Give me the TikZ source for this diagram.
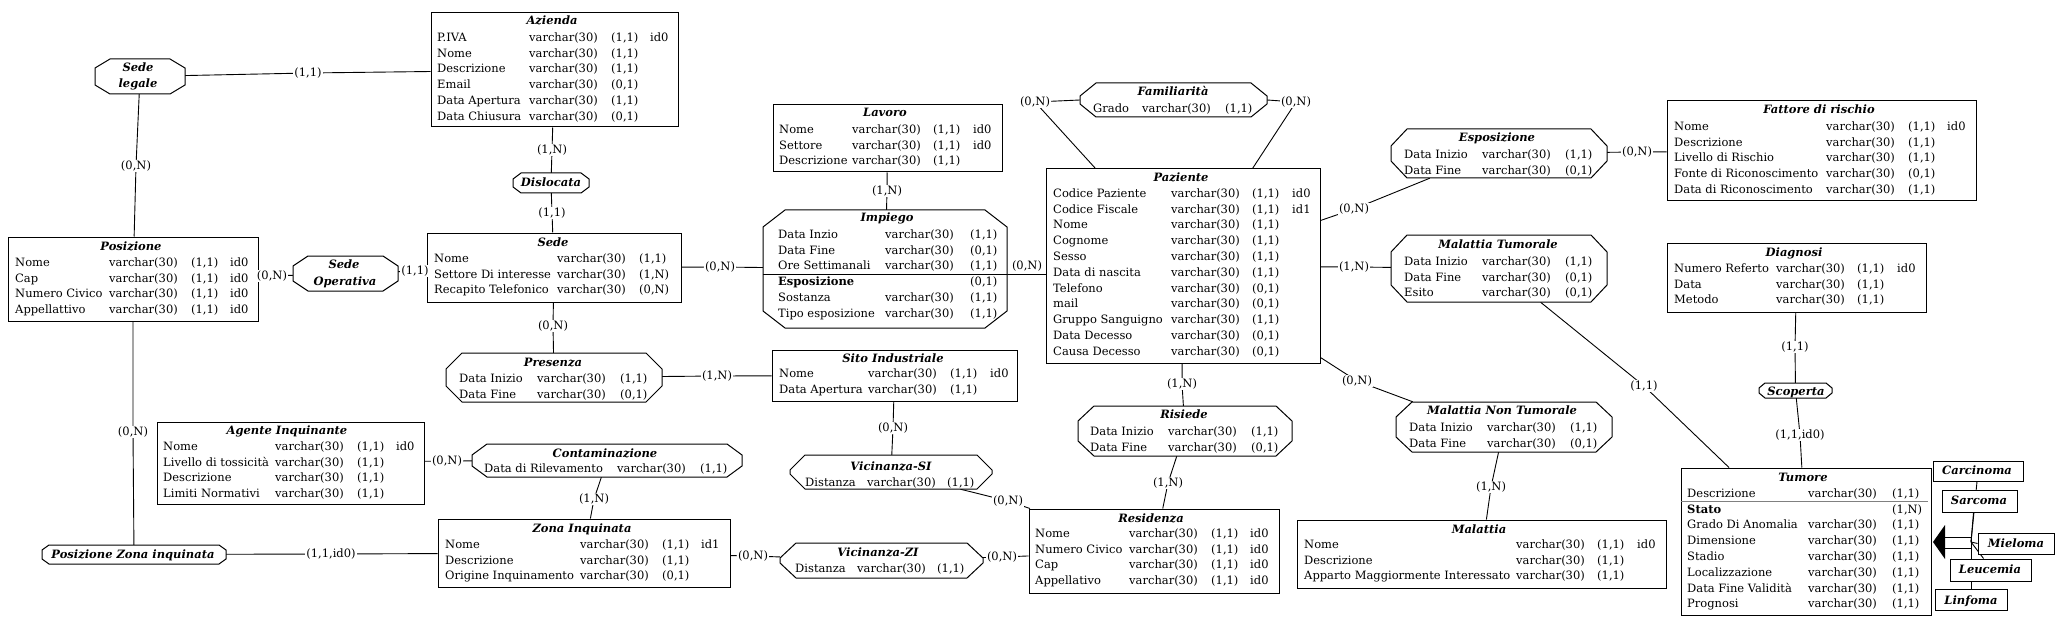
\documentclass[tikz,border=0pt]{standalone}
\usepackage{fontspec}
\setmainfont{DejaVu Serif}
\usepackage{array}
\usetikzlibrary{calc}
\pgfdeclarelayer{back}
\pgfdeclarelayer{bg}
\pgfsetlayers{back,bg,main}
\newcolumntype{E}[3]{@{}w{l}{#1pt}@{}w{l}{#2pt}@{}w{l}{#3pt}@{}l@{}}
\newcolumntype{Q}[2]{@{}w{l}{#1pt}@{}w{l}{#2pt}@{}l@{}}
\newcommand{\ebox}[5]{\node[ent, minimum width={#4-#2}, minimum height={#5-#3}] (#1) at ({(#2+#4)/2},{(#3+#5)/2}) {};}
\newcommand{\obox}[7]{\node[rel, minimum width={#4-#2}, minimum height={#5-#3}] (#1) at ({(#2+#4)/2},{(#3+#5)/2}) {};
 \draw[octline] ({#2+#6},#3) -- ({#4-#6},#3) -- (#4,{#3+#7}) -- (#4,{#5-#7}) -- ({#4-#6},#5) -- ({#2+#6},#5) -- (#2,{#5-#7}) -- (#2,{#3+#7}) -- cycle;}
\newcommand{\ttlat}[4]{\node[ttl] (#1) at (#2,{#3+4}) {#4};}
\newcommand{\lab}[4][card]{\node[#1] (#2) at (#3) {#4};}
\begin{document}
\begin{tikzpicture}[x=1pt,y=-1pt,
 every node/.style={font=\fontsize{11.5}{15.8}\selectfont},
 ent/.style={draw, line width=1pt, fill=white, inner sep=0pt},
 rel/.style={inner sep=0pt},
 octline/.style={draw, line width=1pt, fill=white},
 ttl/.style={inner sep=0pt, anchor=base, font=\fontsize{11.5}{15.8}\selectfont\bfseries\itshape},
 att/.style={inner sep=0pt, anchor=north west},
 card/.style={inner sep=1pt, fill=white},
 cardnf/.style={inner sep=1pt},
 conn/.style={line width=0.9pt},
]
\useasboundingbox (0,0) rectangle (2061,631);
\begin{pgfonlayer}{back}\fill[white] (0,0) rectangle (2061,631);\end{pgfonlayer}

% ---------------- entities ----------------
\ebox{az}{431}{13}{678}{127}
\ttlat{azT}{552}{21}{Azienda}
\node[att] (azA) at (437,30) {\begin{tabular}{E{92}{82}{39}}
P.IVA & varchar(30) & (1,1) & id0\\
Nome & varchar(30) & (1,1) & \\
Descrizione & varchar(30) & (1,1) & \\
Email & varchar(30) & (0,1) & \\
Data Apertura & varchar(30) & (1,1) & \\
Data Chiusura & varchar(30) & (0,1) &
\end{tabular}};

\ebox{sede}{427}{233}{681}{302}
\ttlat{sedeT}{553}{242}{Sede}
\node[att] (sedeA) at (434,251) {\begin{tabular}{Q{123}{82}}
Nome & varchar(30) & (1,1)\\
Settore Di interesse & varchar(30) & (1,N)\\
Recapito Telefonico & varchar(30) & (0,N)
\end{tabular}};

\ebox{pos}{8}{237}{258}{321}
\ttlat{posT}{131}{246}{Posizione}
\node[att] (posA) at (15,255) {\begin{tabular}{E{94}{82}{39}}
Nome & varchar(30) & (1,1) & id0\\
Cap & varchar(30) & (1,1) & id0\\
Numero Civico & varchar(30) & (1,1) & id0\\
Appellattivo & varchar(30) & (1,1) & id0
\end{tabular}};

\ebox{lav}{773}{105}{1002}{172}
\ttlat{lavT}{885}{113}{Lavoro}
\node[att] (lavA) at (779,122) {\begin{tabular}{E{73}{81}{40}}
Nome & varchar(30) & (1,1) & id0\\
Settore & varchar(30) & (1,1) & id0\\
Descrizione & varchar(30) & (1,1) &
\end{tabular}};

\ebox{sito}{772}{350}{1017}{401}
\ttlat{sitoT}{893}{358}{Sito Industriale}
\node[att] (sitoA) at (779,366) {\begin{tabular}{E{89}{82}{40}}
Nome & varchar(30) & (1,1) & id0\\
Data Apertura & varchar(30) & (1,1) &
\end{tabular}};

\ebox{age}{157}{422}{424}{504}
\ttlat{ageT}{287}{430}{Agente Inquinante}
\node[att] (ageA) at (163,439) {\begin{tabular}{E{112}{82}{39}}
Nome & varchar(30) & (1,1) & id0\\
Livello di tossicità & varchar(30) & (1,1) & \\
Descrizione & varchar(30) & (1,1) & \\
Limiti Normativi & varchar(30) & (1,1) &
\end{tabular}};

\ebox{zona}{438}{519}{730}{587}
\ttlat{zonaT}{582}{528}{Zona Inquinata}
\node[att] (zonaA) at (445,537) {\begin{tabular}{E{135}{82}{39}}
Nome & varchar(30) & (1,1) & id1\\
Descrizione & varchar(30) & (1,1) & \\
Origine Inquinamento & varchar(30) & (0,1) &
\end{tabular}};

\ebox{paz}{1046}{169}{1320}{363}
\ttlat{pazT}{1181}{178}{Paziente}
\node[att] (pazA) at (1053,186) {\begin{tabular}{E{118}{81}{40}}
Codice Paziente & varchar(30) & (1,1) & id0\\
Codice Fiscale & varchar(30) & (1,1) & id1\\
Nome & varchar(30) & (1,1) & \\
Cognome & varchar(30) & (1,1) & \\
Sesso & varchar(30) & (1,1) & \\
Data di nascita & varchar(30) & (1,1) & \\
Telefono & varchar(30) & (0,1) & \\
mail & varchar(30) & (0,1) & \\
Gruppo Sanguigno & varchar(30) & (1,1) & \\
Data Decesso & varchar(30) & (0,1) & \\
Causa Decesso & varchar(30) & (0,1) &
\end{tabular}};

\ebox{res}{1029}{509}{1279}{593}
\ttlat{resT}{1151}{518}{Residenza}
\node[att] (resA) at (1035,526) {\begin{tabular}{E{94}{82}{39}}
Nome & varchar(30) & (1,1) & id0\\
Numero Civico & varchar(30) & (1,1) & id0\\
Cap & varchar(30) & (1,1) & id0\\
Appellativo & varchar(30) & (1,1) & id0
\end{tabular}};

\ebox{fat}{1667}{101}{1976}{201}
\ttlat{fatT}{1819}{110}{Fattore di rischio}
\node[att] (fatA) at (1674,119) {\begin{tabular}{E{152}{82}{39}}
Nome & varchar(30) & (1,1) & id0\\
Descrizione & varchar(30) & (1,1) & \\
Livello di Rischio & varchar(30) & (1,1) & \\
Fonte di Riconoscimento & varchar(30) & (0,1) & \\
Data di Riconoscimento & varchar(30) & (1,1) &
\end{tabular}};

\ebox{dia}{1667}{243}{1926}{312}
\ttlat{diaT}{1794}{252}{Diagnosi}
\node[att] (diaA) at (1674,261) {\begin{tabular}{E{102}{81}{40}}
Numero Referto & varchar(30) & (1,1) & id0\\
Data & varchar(30) & (1,1) & \\
Metodo & varchar(30) & (1,1) &
\end{tabular}};

\ebox{mal}{1297}{520}{1666}{588}
\ttlat{malT}{1479}{529}{Malattia}
\node[att] (malA) at (1304,537) {\begin{tabular}{E{212}{81}{40}}
Nome & varchar(30) & (1,1) & id0\\
Descrizione & varchar(30) & (1,1) & \\
Apparto Maggiormente Interessato & varchar(30) & (1,1) &
\end{tabular}};

\ebox{tum}{1681}{468}{1931}{615}
\ttlat{tumT}{1803}{477}{Tumore}
\node[att] (tumA) at (1687,486) {\begin{tabular}{Q{121}{84}}
Descrizione & varchar(30) & (1,1)\\
\textbf{Stato} & & (1,N)\\
Grado Di Anomalia & varchar(30) & (1,1)\\
Dimensione & varchar(30) & (1,1)\\
Stadio & varchar(30) & (1,1)\\
Localizzazione & varchar(30) & (1,1)\\
Data Fine Validità & varchar(30) & (1,1)\\
Prognosi & varchar(30) & (1,1)
\end{tabular}};
\coordinate (ysepT) at (0,501);
\draw[gray, line width=1pt] (tum.west |- ysepT) -- ($(tum.east |- ysepT)+(-4,0)$);

% subtypes
\ebox{car}{1933}{461}{2023}{481} \ttlat{carT}{1977}{470}{Carcinoma}
\ebox{sar}{1942}{490}{2017}{512} \ttlat{sarT}{1979}{500}{Sarcoma}
\ebox{mie}{1978}{533}{2054}{554} \ttlat{mieT}{2016}{543}{Mieloma}
\ebox{leu}{1950}{559}{2031}{581} \ttlat{leuT}{1990}{569}{Leucemia}
\ebox{lin}{1935}{589}{2007}{610} \ttlat{linT}{1971}{600}{Linfoma}

% ---------------- relationships ----------------
\obox{sl}{95}{59}{185}{94}{15}{9}
\ttlat{slT1}{138}{68}{Sede}
\ttlat{slT2}{138}{84}{legale}

\obox{so}{293}{256}{398}{291}{15}{10}
\ttlat{soT1}{344}{265}{Sede}
\ttlat{soT2}{345}{281}{Operativa}

\obox{dis}{513}{173}{589}{193}{8}{6}
\ttlat{disT}{551}{183}{Dislocata}

\obox{imp}{763}{210}{1007}{328}{22}{17}
\ttlat{impT}{887}{218}{Impiego}
\node[att] (impA) at (778,227) {\begin{tabular}{Q{107}{85}}
Data Inzio & varchar(30) & (1,1)\\
Data Fine & varchar(30) & (0,1)\\
Ore Settimanali & varchar(30) & (1,1)\\
\textbf{Esposizione} & & (0,1)\\
Sostanza & varchar(30) & (1,1)\\
Tipo esposizione & varchar(30) & (1,1)
\end{tabular}};
\coordinate (ysep) at (0,274);
\draw[line width=1pt] (imp.west |- ysep) -- (imp.east |- ysep);

\obox{pre}{446}{353}{662}{402}{16}{16}
\ttlat{preT}{553}{362}{Presenza}
\node[att] (preA) at (459,371) {\begin{tabular}{Q{78}{83}}
Data Inizio & varchar(30) & (1,1)\\
Data Fine & varchar(30) & (0,1)
\end{tabular}};

\obox{fam}{1080}{83}{1267}{117}{16}{13}
\ttlat{famT}{1173}{92}{Familiarità}
\node[att] (famA) at (1093,101) {\begin{tabular}{Q{49}{83}}
Grado & varchar(30) & (1,1)
\end{tabular}};

\obox{esp}{1391}{129}{1607}{178}{16}{17}
\ttlat{espT}{1497}{138}{Esposizione}
\node[att] (espA) at (1404,147) {\begin{tabular}{Q{78}{83}}
Data Inizio & varchar(30) & (1,1)\\
Data Fine & varchar(30) & (0,1)
\end{tabular}};

\obox{mt}{1391}{235}{1607}{302}{16}{17}
\ttlat{mtT}{1498}{244}{Malattia Tumorale}
\node[att] (mtA) at (1404,254) {\begin{tabular}{Q{78}{83}}
Data Inizio & varchar(30) & (1,1)\\
Data Fine & varchar(30) & (0,1)\\
Esito & varchar(30) & (0,1)
\end{tabular}};

\obox{mnt}{1396}{402}{1612}{452}{16}{15}
\ttlat{mntT}{1502}{410}{Malattia Non Tumorale}
\node[att] (mntA) at (1409,420) {\begin{tabular}{Q{78}{83}}
Data Inizio & varchar(30) & (1,1)\\
Data Fine & varchar(30) & (0,1)
\end{tabular}};

\obox{ris}{1078}{406}{1292}{456}{16}{15}
\ttlat{risT}{1184}{414}{Risiede}
\node[att] (risA) at (1090,424) {\begin{tabular}{Q{78}{83}}
Data Inizio & varchar(30) & (1,1)\\
Data Fine & varchar(30) & (0,1)
\end{tabular}};

\obox{con}{472}{444}{742}{477}{15}{11}
\ttlat{conT}{605}{453}{Contaminazione}
\node[att] (conA) at (484,461) {\begin{tabular}{Q{133}{83}}
Data di Rilevamento & varchar(30) & (1,1)
\end{tabular}};

\obox{vics}{790}{455}{992}{489}{15}{15}
\ttlat{vicsT}{891}{466}{Vicinanza-SI}
\node[att] (vicsA) at (805,475) {\begin{tabular}{Q{62}{80}}
Distanza & varchar(30) & (1,1)
\end{tabular}};

\obox{vicz}{780}{543}{983}{578}{16}{15}
\ttlat{viczT}{878}{552}{Vicinanza-ZI}
\node[att] (viczA) at (795,561) {\begin{tabular}{Q{62}{80}}
Distanza & varchar(30) & (1,1)
\end{tabular}};

\obox{pzi}{42}{545}{226}{564}{7}{5}
\ttlat{pziT}{133}{554}{Posizione Zona inquinata}

\obox{sco}{1759}{383}{1832}{398}{6}{5}
\ttlat{scoT}{1796}{391}{Scoperta}

% ---------------- connectors ----------------
\coordinate (c1) at (308,73);   \coordinate (c2) at (136,166);
\coordinate (c3) at (272,276);  \coordinate (c4) at (415,271);
\coordinate (c5) at (552,150);  \coordinate (c6) at (552,213);
\coordinate (c7) at (720,267);  \coordinate (c8) at (887,191);
\coordinate (c9) at (1027,266); \coordinate (c10) at (553,326);
\coordinate (c11) at (717,376); \coordinate (c12) at (893,428);
\coordinate (c13) at (1008,501);\coordinate (c14) at (753,556);
\coordinate (c15) at (1002,557);\coordinate (c16) at (594,499);
\coordinate (c17) at (447,461); \coordinate (c18) at (133,432);
\coordinate (c19) at (331,554); \coordinate (c20) at (1035,102);
\coordinate (c21) at (1296,102);\coordinate (c22) at (1354,209);
\coordinate (c23) at (1637,152);\coordinate (c24) at (1354,267);
\coordinate (c25) at (1357,381);\coordinate (c26) at (1182,384);
\coordinate (c27) at (1168,483);\coordinate (c28) at (1491,487);
\coordinate (c29) at (1644,386);\coordinate (c30) at (1795,347);
\coordinate (c31) at (1800,435);
\coordinate (hub) at (1971,542);
\coordinate (ha) at (1971,537); \coordinate (hb) at (1971,548);
\coordinate (ta) at (1945,537); \coordinate (tb) at (1945,548);
\coordinate (tip) at (1933,542);
\coordinate (tu) at (1945,525); \coordinate (tl) at (1945,559);

\begin{pgfonlayer}{bg}
\draw[conn] (sl) -- (c1) -- (az);
\draw[conn] (sl) -- (c2) -- (pos);
\draw[conn] (pos) -- (c3) -- (so);
\draw[conn] (so) -- (c4) -- (sede);
\draw[conn] (az) -- (c5) -- (dis);
\draw[conn] (dis) -- (c6) -- (sede);
\draw[conn] (sede) -- (c7) -- (imp);
\draw[conn] (lav) -- (c8) -- (imp);
\draw[conn] (imp.east |- ysep) -- (paz.west |- ysep);
\draw[conn] (sede) -- (c10) -- (pre);
\draw[conn] (pre) -- (c11) -- (sito);
\draw[conn] (sito) -- (c12) -- (vics);
\draw[conn] (vics) -- (c13) -- (res);
\draw[conn] (zona) -- (c14) -- (vicz);
\draw[conn] (vicz) -- (c15) -- (res);
\draw[conn] (con) -- (c16) -- (zona);
\draw[conn] (age) -- (c17) -- (con);
\draw[conn] (pos) -- (c18) -- (pzi);
\draw[conn] (pzi) -- (c19) -- (zona);
\draw[conn] ($(paz.north west)+(50,0)$) -- (c20) -- (fam.west);
\draw[conn] ($(paz.north east)+(-68,0)$) -- (c21) -- (fam.east);
\draw[conn] ($(paz.north east)+(0,52)$) -- (c22) -- ($(esp.south west)+(39,0)$);
\draw[conn] (esp) -- (c23) -- (fat);
\draw[conn] (paz) -- (c24) -- (mt);
\draw[conn] ($(paz.south east)+(0,-6)$) -- (c25) -- ($(mnt.north west)+(17,0)$);
\draw[conn] (paz) -- (c26) -- (ris);
\draw[conn] (ris) -- (c27) -- (res);
\draw[conn] (mnt) -- (c28) -- (mal);
\draw[conn] (mt) -- (c29) -- (tum);
\draw[conn] (dia) -- (c30) -- (sco);
\draw[conn] (sco) -- (c31) -- (tum);
% generalization
\draw[conn] (hub) -- ($(car.south)+(-1,0)$);
\draw[conn] (hub) -- ($(sar.south)+(-6,0)$);
\draw[conn] (hub) -- (mie.west);
\draw[conn] (hub) -- ($(leu.north)+(-7,0)$);
\draw[conn] (hub) -- (lin.north);
\draw[conn] (ha) -- (hb);
\draw[conn] (ha) -- (ta);
\draw[conn] (hb) -- (tb);
\end{pgfonlayer}
\fill (tip) -- (tu) -- (tl) -- cycle;

% ---------------- cardinalities ----------------
\lab{l1}{c1}{(1,1)}   \lab{l2}{c2}{(0,N)}   \lab{l3}{c3}{(0,N)}
\lab{l4}{c4}{(1,1)}   \lab{l5}{c5}{(1,N)}   \lab{l6}{c6}{(1,1)}
\lab{l7}{c7}{(0,N)}   \lab{l8}{c8}{(1,N)}   \lab[cardnf]{l9}{c9}{(0,N)}
\lab{l10}{c10}{(0,N)} \lab{l11}{c11}{(1,N)} \lab{l12}{c12}{(0,N)}
\lab{l13}{c13}{(0,N)} \lab{l14}{c14}{(0,N)} \lab{l15}{c15}{(0,N)}
\lab{l16}{c16}{(1,N)} \lab{l17}{c17}{(0,N)} \lab{l18}{c18}{(0,N)}
\lab{l19}{c19}{(1,1,id0)} \lab{l20}{c20}{(0,N)} \lab{l21}{c21}{(0,N)}
\lab{l22}{c22}{(0,N)} \lab{l23}{c23}{(0,N)} \lab{l24}{c24}{(1,N)}
\lab{l25}{c25}{(0,N)} \lab{l26}{c26}{(1,N)} \lab{l27}{c27}{(1,N)}
\lab{l28}{c28}{(1,N)} \lab{l29}{c29}{(1,1)} \lab{l30}{c30}{(1,1)}
\lab{l31}{c31}{(1,1,id0)}
\end{tikzpicture}
\end{document}
